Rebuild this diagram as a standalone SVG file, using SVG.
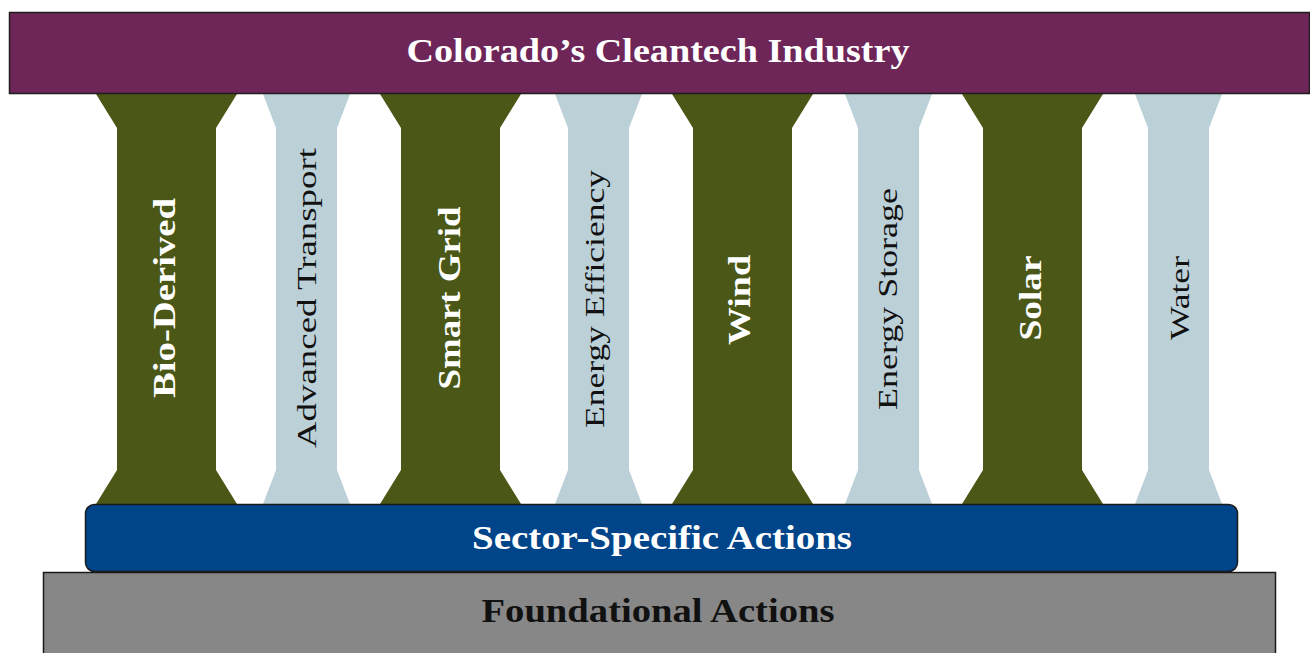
<svg xmlns="http://www.w3.org/2000/svg" width="1310" height="653" viewBox="0 0 1310 653">
<defs>
<style>
.olive{fill:#4B5716}
.light{fill:#BCD0D8}
.serif{font-family:"Liberation Serif","Times New Roman",serif}
.wt{fill:#FFFFFF;font-weight:bold;font-size:31px;text-anchor:middle}
.bt{fill:#111111;font-size:28px;text-anchor:middle}
.hdr{font-weight:bold;font-size:33px;text-anchor:middle}
</style>
<polygon id="op" points="0,94 141,94 120,128 120,470 141,504 0,504 21,470 21,128"/>
<polygon id="lp" points="0,94 87,94 74,128 74,470 87,504 0,504 13,470 13,128"/>
</defs>
<rect width="1310" height="653" fill="#FFFFFF"/>
<g id="pillar-bio-derived">
<use href="#op" x="96" class="olive"/>
<text class="serif wt" transform="translate(175,298) rotate(-90)" textLength="200" lengthAdjust="spacingAndGlyphs">Bio-Derived</text>
</g>
<g id="pillar-advanced-transport">
<use href="#lp" x="263" class="light"/>
<text class="serif bt" transform="translate(316,298) rotate(-90)" textLength="300" lengthAdjust="spacingAndGlyphs">Advanced Transport</text>
</g>
<g id="pillar-smart-grid">
<use href="#op" x="380" class="olive"/>
<text class="serif wt" transform="translate(460,298) rotate(-90)" textLength="183" lengthAdjust="spacingAndGlyphs">Smart Grid</text>
</g>
<g id="pillar-energy-efficiency">
<use href="#lp" x="555" class="light"/>
<text class="serif bt" transform="translate(604,299) rotate(-90)" textLength="258" lengthAdjust="spacingAndGlyphs">Energy Efficiency</text>
</g>
<g id="pillar-wind">
<use href="#op" x="672" class="olive"/>
<text class="serif wt" transform="translate(750,300) rotate(-90)" textLength="90" lengthAdjust="spacingAndGlyphs">Wind</text>
</g>
<g id="pillar-energy-storage">
<use href="#lp" x="845" class="light"/>
<text class="serif bt" transform="translate(897,299) rotate(-90)" textLength="222" lengthAdjust="spacingAndGlyphs">Energy Storage</text>
</g>
<g id="pillar-solar">
<use href="#op" x="962" class="olive"/>
<text class="serif wt" transform="translate(1041,298) rotate(-90)" textLength="85" lengthAdjust="spacingAndGlyphs">Solar</text>
</g>
<g id="pillar-water">
<use href="#lp" x="1135" class="light"/>
<text class="serif bt" transform="translate(1189,298) rotate(-90)" textLength="84" lengthAdjust="spacingAndGlyphs">Water</text>
</g>
<g id="header-cleantech-industry">
<rect x="9.5" y="12.5" width="1300" height="81" fill="#6E2659" stroke="#1E1E1E" stroke-width="1.5"/>
<text class="serif hdr" x="658" y="62" fill="#FFFFFF" textLength="503" lengthAdjust="spacingAndGlyphs">Colorado’s Cleantech Industry</text>
</g>
<g id="sector-specific-actions">
<rect x="85.5" y="504.5" width="1152" height="67" rx="9" fill="#004489" stroke="#1A1A1A" stroke-width="1.5"/>
<text class="serif hdr" x="662" y="549" fill="#FFFFFF" textLength="380" lengthAdjust="spacingAndGlyphs">Sector-Specific Actions</text>
</g>
<g id="foundational-actions">
<rect x="43.5" y="572.5" width="1232" height="90" fill="#878787" stroke="#1A1A1A" stroke-width="1.5"/>
<text class="serif hdr" x="658" y="622" fill="#111111" textLength="353" lengthAdjust="spacingAndGlyphs">Foundational Actions</text>
</g>
</svg>
